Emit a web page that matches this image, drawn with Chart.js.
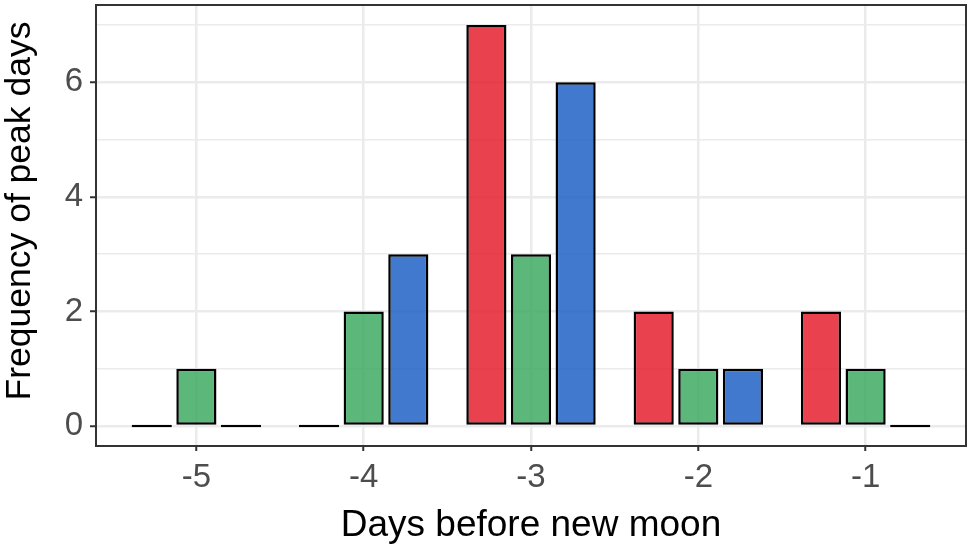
<!DOCTYPE html>
<html><head><meta charset="utf-8">
<script src="https://cdn.jsdelivr.net/npm/chart.js@4"></script>
<style>html,body{margin:0;padding:0;background:#fff}#wrap{width:971px;height:550px}</style>
</head><body><div id="wrap"><canvas id="c" width="971" height="550"></canvas></div>
<script>
const categories = ['-5', '-4', '-3', '-2', '-1'];
const seriesRed = [0, 0, 7, 2, 2];
const seriesGreen = [1, 2, 3, 1, 1];
const seriesBlue = [0, 3, 6, 1, 0];
const yTickValues = [0, 1, 2, 3, 4, 5, 6, 7];
const yMajorTicks = [0, 2, 4, 6];
const xTitle = 'Days before new moon';
const yTitle = 'Frequency of peak days';

const FONT = "'Liberation Sans', Arial, sans-serif";
const GRID = '#EBEBEB';

const panelBorder = {
  id: 'panelBorder',
  afterDatasetsDraw(chart) {
    const { ctx, chartArea: a } = chart;
    ctx.save();
    ctx.strokeStyle = '#333333';
    ctx.lineWidth = 2;
    ctx.strokeRect(a.left, a.top, a.right - a.left, a.bottom - a.top);
    ctx.restore();
  }
};

const yTitlePlugin = {
  id: 'yTitlePlugin',
  afterDraw(chart) {
    const { ctx } = chart;
    ctx.save();
    ctx.translate(20, 211);
    ctx.rotate(-Math.PI / 2);
    ctx.font = "35.5px 'Liberation Sans', Arial, sans-serif";
    ctx.fillStyle = '#000000';
    ctx.textAlign = 'center';
    ctx.textBaseline = 'middle';
    ctx.fillText(yTitle, 0, 0);
    ctx.restore();
  }
};

const common = {
  borderColor: '#000000',
  borderWidth: 2.5,
  borderSkipped: false,
  minBarLength: 2.5,
  categoryPercentage: 0.8,
  barPercentage: 0.9
};

new Chart(document.getElementById('c'), {
  type: 'bar',
  data: {
    labels: categories,
    datasets: [
      Object.assign({ data: seriesRed, backgroundColor: 'rgba(229,33,47,0.85)' }, common),
      Object.assign({ data: seriesGreen, backgroundColor: 'rgba(63,172,99,0.85)' }, common),
      Object.assign({ data: seriesBlue, backgroundColor: 'rgba(31,98,196,0.85)' }, common)
    ]
  },
  options: {
    responsive: false,
    animation: false,
    devicePixelRatio: 1,
    layout: { padding: { top: 5, right: 5, left: 0, bottom: 0 } },
    plugins: { legend: { display: false }, tooltip: { enabled: false } },
    scales: {
      x: {
        type: 'category',
        offset: true,
        grid: { offset: false, color: GRID, lineWidth: 2.5, drawTicks: true, tickLength: 5, tickColor: '#333333', tickWidth: 2 },
        border: { display: false },
        ticks: { color: '#4D4D4D', font: { family: FONT, size: 33 }, padding: 7, maxRotation: 0 },
        title: { display: true, text: xTitle, color: '#000000', font: { family: FONT, size: 37 }, padding: { top: 0, bottom: 2 } },
        afterBuildTicks(s) { s._startValue = -0.6; s._valueRange = 5.2; },
        afterFit(s) { s.height = 104; s.paddingLeft = 0; s.paddingRight = 0; }
      },
      y: {
        min: -0.35,
        max: 7.35,
        afterBuildTicks(s) { s.ticks = yTickValues.map(v => ({ value: v })); },
        grid: {
          color: GRID,
          lineWidth: c => (yMajorTicks.includes(c.tick && c.tick.value) ? 2.5 : 1.5),
          tickColor: c => (yMajorTicks.includes(c.tick && c.tick.value) ? '#333333' : 'rgba(0,0,0,0)'),
          tickWidth: 2,
          tickLength: 6
        },
        border: { display: false },
        ticks: {
          color: '#4D4D4D',
          font: { family: FONT, size: 33 },
          padding: 7,
          callback: v => (yMajorTicks.includes(v) ? String(v) : '')
        },
        title: { display: false },
        afterFit(s) { s.width = 96; s.paddingTop = 0; s.paddingBottom = 0; }
      }
    }
  },
  plugins: [panelBorder, yTitlePlugin]
});
</script>
</body></html>
